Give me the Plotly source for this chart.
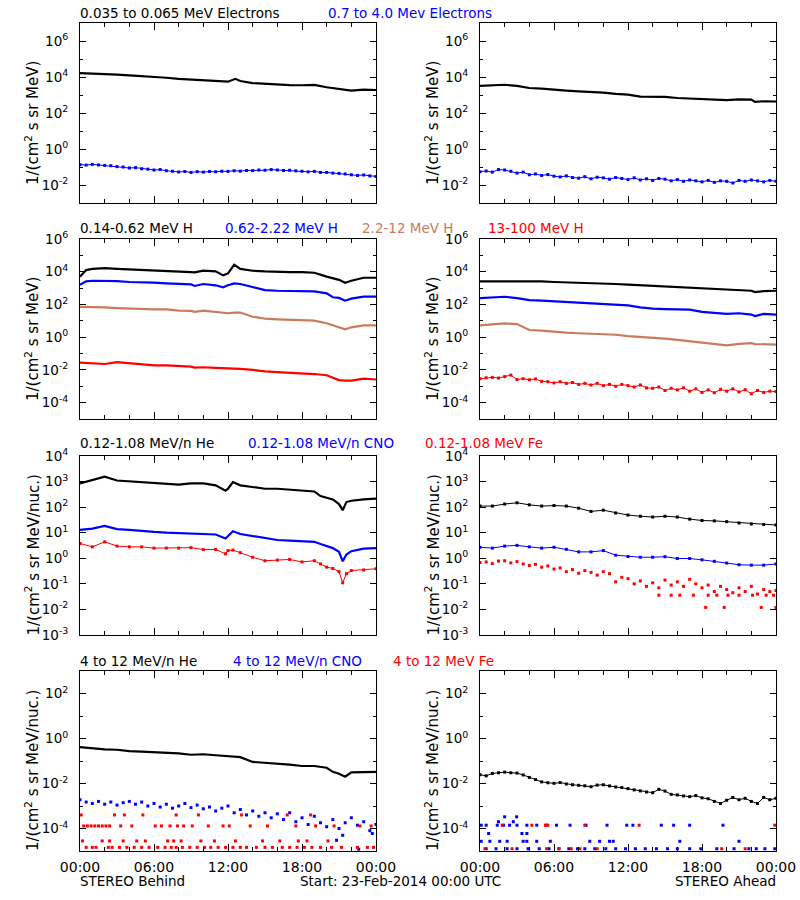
import plotly.graph_objects as go
from datetime import datetime, timedelta

# ---------------- data ----------------
START = datetime(2014, 2, 23)
HALF_HOURS = [h / 2 for h in range(49)]
HOURS = list(range(25))

# Row 1 - electrons
t_e_left = [0, 1, 2, 3, 4, 5, 6, 7, 8, 9, 10, 11, 12, 12.6, 13, 14, 15, 16, 17, 18, 19, 20, 21, 22, 23, 24]
e_low_left = [1.66e4, 1.58e4, 1.48e4, 1.35e4, 1.23e4, 1.12e4, 1.05e4, 9.1e3, 7.9e3, 7.2e3, 6.8e3, 6.3e3, 5.5e3,
              7.9e3, 6.0e3, 4.6e3, 4.1e3, 3.7e3, 3.55e3, 3.47e3, 3.63e3, 2.7e3, 2.1e3, 1.74e3, 2.0e3, 1.9e3]
e_high_left = [0.135, 0.128, 0.14, 0.13, 0.123, 0.118, 0.105, 0.1, 0.088, 0.092, 0.08, 0.076, 0.068, 0.072, 0.062,
               0.058, 0.053, 0.056, 0.05, 0.055, 0.052, 0.056, 0.054, 0.058, 0.057, 0.062, 0.059, 0.064, 0.063,
               0.068, 0.066, 0.072, 0.068, 0.064, 0.066, 0.061, 0.058, 0.054, 0.057, 0.05, 0.05, 0.046, 0.044,
               0.041, 0.037, 0.034, 0.036, 0.032, 0.03]
t_e_right = [0, 1, 2, 3, 4, 5, 6, 7, 8, 9, 10, 11, 12, 13, 14, 15, 16, 17, 18, 19, 20, 21, 22, 22.3, 23, 24]
e_low_right = [3.2e3, 3.5e3, 3.7e3, 3.2e3, 2.45e3, 2.25e3, 1.9e3, 1.74e3, 1.58e3, 1.48e3, 1.35e3, 1.15e3, 1.05e3,
               8.1e2, 8.1e2, 7.9e2, 6.8e2, 6.3e2, 5.75e2, 5.25e2, 5.25e2, 5.75e2, 5.5e2, 4.1e2, 4.5e2, 4.35e2]
e_high_right = [0.055, 0.06, 0.052, 0.072, 0.068, 0.058, 0.046, 0.052, 0.037, 0.041, 0.034, 0.038, 0.031, 0.028,
                0.032, 0.026, 0.024, 0.029, 0.022, 0.027, 0.025, 0.021, 0.026, 0.023, 0.02, 0.025, 0.019, 0.022,
                0.018, 0.023, 0.021, 0.017, 0.02, 0.016, 0.019, 0.017, 0.015, 0.018, 0.014, 0.017, 0.016, 0.013,
                0.018, 0.016, 0.019, 0.017, 0.015, 0.018, 0.016]

# Row 2 - protons
t_h_left = [0, 0.5, 1, 2, 3, 4, 5, 6, 7, 8, 9, 9.3, 10, 11, 11.6, 12, 12.5, 13, 14, 15, 16, 17, 18, 19, 20, 20.5,
            21, 21.5, 22, 23, 24]
h1_left = [5.0e3, 1.26e4, 1.5e4, 1.66e4, 1.5e4, 1.41e4, 1.26e4, 1.26e4, 1.15e4, 1.05e4, 9.5e3, 9.1e3, 1.15e4,
           1.05e4, 6.0e3, 7.9e3, 2.7e4, 1.5e4, 1.15e4, 1.05e4, 9.5e3, 9.5e3, 9.5e3, 8.7e3, 5.0e3, 4.0e3, 3.2e3,
           2.1e3, 2.8e3, 4.3e3, 4.3e3]
h2_left = [1.62e3, 2.57e3, 2.8e3, 2.8e3, 2.7e3, 2.35e3, 2.35e3, 2.15e3, 1.95e3, 1.78e3, 1.7e3, 1.35e3, 1.78e3,
           1.48e3, 1.12e3, 1.48e3, 1.95e3, 1.78e3, 1.12e3, 7.6e2, 6.9e2, 6.9e2, 6.3e2, 6.3e2, 4.8e2, 2.75e2, 2.5e2,
           1.7e2, 2.25e2, 3.0e2, 3.0e2]
h3_left = [72, 72, 72, 66, 60, 55, 55, 50, 50, 42, 40, 35, 42, 35, 32, 29, 32, 32, 17.8, 13.5, 12.3, 11.2, 11.2,
           10.2, 7.1, 5.2, 4.0, 3.0, 4.0, 5.2, 5.2]
h4_left = [2.75e-2, 2.6e-2, 2.5e-2, 2.3e-2, 3.0e-2, 2.5e-2, 2.1e-2, 1.9e-2, 1.9e-2, 1.74e-2, 1.58e-2, 1.38e-2,
           1.45e-2, 1.32e-2, 1.26e-2, 1.32e-2, 1.26e-2, 1.17e-2, 1.0e-2, 8.1e-3, 7.4e-3, 6.8e-3, 6.2e-3, 5.6e-3,
           4.7e-3, 3.5e-3, 2.4e-3, 2.2e-3, 2.2e-3, 2.9e-3, 2.6e-3]
t_h_right = [0, 1, 2, 3, 4, 5, 6, 7, 8, 9, 10, 11, 12, 13, 14, 15, 16, 17, 18, 19, 20, 21, 22, 22.3, 23, 24]
h1_right = [2.57e3, 2.57e3, 2.57e3, 2.8e3, 2.8e3, 2.57e3, 2.35e3, 2.25e3, 2.15e3, 2.05e3, 1.95e3, 1.78e3, 1.62e3,
            1.48e3, 1.35e3, 1.23e3, 1.12e3, 1.0e3, 9.1e2, 8.3e2, 7.6e2, 7.2e2, 6.9e2, 5.75e2, 6.6e2, 6.9e2]
h2_right = [245, 270, 295, 245, 186, 170, 155, 141, 129, 115, 105, 95, 87, 66, 55, 52.5, 50, 48, 35, 29, 26.3, 29,
            24, 19.5, 26.3, 24]
h3_right = [5.2, 5.75, 6.9, 6.3, 2.75, 2.5, 2.1, 1.9, 1.74, 1.66, 1.55, 1.41, 1.17, 1.07, 0.89, 0.81, 0.68, 0.56,
            0.47, 0.355, 0.32, 0.39, 0.43, 0.38, 0.355, 0.355]
h4_right = [2.9e-3, 3.3e-3, 3.5e-3, 3.2e-3, 3.9e-3, 4.8e-3, 2.6e-3, 2.9e-3, 2.5e-3, 2.8e-3, 2.0e-3, 1.9e-3, 1.6e-3,
            1.9e-3, 1.5e-3, 1.7e-3, 1.3e-3, 1.5e-3, 1.2e-3, 1.5e-3, 1.1e-3, 1.3e-3, 1.0e-3, 1.3e-3, 1.1e-3, 0.9e-3,
            1.2e-3, 0.8e-3, 0.75e-3, 0.9e-3, 0.55e-3, 0.75e-3, 0.6e-3, 0.8e-3, 0.5e-3, 0.7e-3, 0.42e-3, 0.6e-3,
            0.4e-3, 0.65e-3, 0.5e-3, 0.7e-3, 0.45e-3, 0.62e-3, 0.35e-3, 0.55e-3, 0.42e-3, 0.5e-3, 0.48e-3]

# Row 3 - low energy ions
t_ion_left = [0, 1, 2, 3, 4, 5, 6, 7, 8, 9, 10, 11, 11.8, 12, 12.4, 13, 14, 15, 16, 17, 18, 19, 19.5, 20, 20.5,
              21, 21.3, 21.6, 22, 23, 24]
he_lo_left = [850, 1150, 1550, 1100, 1020, 910, 850, 790, 760, 850, 850, 710, 440, 525, 955, 710, 590, 525, 525,
              490, 440, 410, 270, 240, 200, 132, 76, 158, 178, 200, 214]
cno_lo_left = [12.9, 14.5, 18.6, 13.8, 12.9, 11.5, 10.7, 10.0, 9.5, 8.9, 8.9, 8.5, 5.9, 7.4, 11.5, 8.9, 7.4, 5.9,
               5.2, 4.9, 4.7, 4.4, 3.6, 3.0, 2.5, 1.8, 0.76, 1.4, 1.9, 2.4, 2.5]
fe_lo_left = [3.8, 2.8, 4.4, 3.0, 2.8, 2.8, 2.5, 2.5, 2.5, 2.6, 2.2, 2.2, 1.5, 2.0, 2.1, 1.66, 1.1, 0.8, 0.85, 0.9,
              0.72, 0.8, 0.6, 0.45, 0.4, 0.3, 0.11, 0.25, 0.33, 0.35, 0.39]
he_lo_right = [110, 110, 132, 148, 123, 110, 115, 110, 91, 68, 76, 59, 49, 44, 41, 44, 41, 34, 30, 29, 27, 24, 22,
               21, 20]
cno_lo_right = [2.7, 2.5, 3.0, 3.2, 2.8, 2.5, 2.7, 2.24, 1.78, 1.78, 2.0, 1.32, 1.17, 1.1, 1.1, 1.15, 0.98, 0.98,
                0.87, 0.76, 0.65, 0.56, 0.54, 0.54, 0.6]
fe_lo_right = [0.68, 0.72, 0.62, 0.78, 0.8, 0.66, 0.74, 0.6, 0.52, 0.58, 0.45, 0.5, 0.38, 0.42, 0.3, 0.36, 0.26,
               0.33, 0.28, 0.22, 0.3, 0.25, 0.12, 0.18, 0.16, 0.1, 0.13, 0.08, 0.11, 0.07, 0.14, 0.09, 0.12, 0.08,
               0.15, 0.1, 0.07, 0.09, 0.05, 0.08, 0.06, 0.045, 0.07, 0.05, 0.08, 0.04, 0.06, 0.05, 0.055]
t_fe_lo_right_floor = [14.5, 15.5, 16.2, 17.3, 18.3, 18.5, 19.2, 19.8, 20.1, 21.0, 22.1, 22.8, 23.2, 23.8, 24.0]
fe_lo_right_floor = [0.036, 0.036, 0.036, 0.036, 0.012, 0.036, 0.036, 0.012, 0.036, 0.036, 0.036, 0.012, 0.036,
                     0.036, 0.012]

# Row 4 - high energy ions
t_he_hi_left = [0, 1, 2, 3, 4, 5, 6, 7, 8, 9, 10, 11, 12, 13, 14, 15, 16, 17, 18, 19, 20, 20.5, 21, 21.5, 22, 23, 24]
he_hi_left = [0.41, 0.355, 0.33, 0.316, 0.275, 0.263, 0.25, 0.235, 0.22, 0.19, 0.2, 0.18, 0.158, 0.148, 0.091,
              0.085, 0.074, 0.069, 0.06, 0.06, 0.05, 0.033, 0.027, 0.02, 0.031, 0.032, 0.033]
cno_hi_left = [1.9e-3, 1.5e-3, 1.3e-3, 1.6e-3, 1.2e-3, 1.5e-3, 1.1e-3, 1.4e-3, 1.6e-3, 1.2e-3, 1.5e-3, 1.0e-3,
               1.3e-3, 0.9e-3, 1.2e-3, 0.8e-3, 1.0e-3, 1.3e-3, 0.85e-3, 1.1e-3, 0.75e-3, 0.9e-3, 0.6e-3, 0.8e-3,
               1.0e-3, 0.5e-3, 0.7e-3, 0.4e-3, 0.6e-3, 0.35e-3, 0.5e-3, 0.3e-3, 0.45e-3, 0.25e-3, 0.5e-3, 0.2e-3,
               0.3e-3, 0.15e-3, 0.35e-3, 0.18e-3, 0.12e-3, 0.25e-3, 0.1e-3, 0.18e-3, 0.3e-3, 0.14e-3, 0.2e-3,
               0.08e-3, 0.15e-3]
t_cno_hi_left_extra = [20.8, 21.3, 22.6, 23.7]
cno_hi_left_extra = [3e-5, 5e-5, 1.2e-5, 6e-5]
t_fe_hi_left = [0.5, 1, 1.3, 2.3, 2.6, 3.2, 3.8, 4.4, 5, 5.6, 6.3, 6.9, 7.4, 7.8, 8.3, 8.9, 9.5, 10.1, 10.6, 11.2,
                11.8, 12.4, 13, 13.5, 14.3, 15, 15.6, 16.4, 17, 17.6, 18.2, 18.8, 19.5, 20.4, 21.2, 22.5, 23.3, 23.8,
                0.2, 1.8, 2.4, 3.5, 4.6, 5.3, 7.1, 7.6, 8.2, 9.8, 10.9, 12.6, 14.8, 16.2, 17.7, 18.4, 20.1,
                0.3, 0.6, 0.9, 1.2, 1.5, 1.8, 2.1, 2.4, 3.3, 4.2, 6.1, 6.6, 7.3, 7.9, 8.4, 9.1, 10.4, 11.6, 12.1,
                13.8, 15.2, 17.5, 19.1, 20.6, 22.7, 23.6,
                0.1, 2.8, 3.6, 5.1, 7.8, 9.6, 13.1, 16.8, 18.7]
fe_hi_left = [1.45e-5] * 38 + [2.8e-5] * 17 + [1.3e-4] * 26 + [4e-4] * 9
he_hi_right = [0.0245, 0.022, 0.028, 0.03, 0.032, 0.03, 0.029, 0.024, 0.0186, 0.015, 0.0118, 0.0108, 0.0102,
               0.011, 0.0095, 0.0088, 0.0083, 0.0079, 0.0072, 0.0085, 0.0088, 0.0078, 0.007, 0.0066, 0.0059, 0.0052,
               0.0047, 0.0042, 0.0039, 0.0055, 0.0046, 0.0033, 0.0031, 0.0028, 0.0026, 0.0029, 0.0023, 0.0021,
               0.0016, 0.0013, 0.0018, 0.0024, 0.0019, 0.0022, 0.0016, 0.0013, 0.0024, 0.0019, 0.0022]
t_cno_hi_right = [0.1, 0.5, 1.4, 1.9, 2.4, 3.0, 3.8, 4.6, 5.4, 6.2, 7.3, 8.6, 10.3, 11.9, 12.4, 14.7, 15.7, 17.0, 19.7,
                  0.1, 0.8, 1.6, 2.2, 3.5, 3.8, 4.6, 5.7, 8.9, 9.7, 10.5, 10.8, 16.2, 21.0,
                  0.7, 3.4, 3.8, 2.0, 2.97, 1.5, 2.7,
                  0.5, 1.3, 2.2, 3.0, 3.9, 4.8, 5.6, 6.4, 7.2, 7.9, 8.5, 9.3, 10.2, 11.0, 11.8, 12.6, 13.4, 14.3,
                  15.2, 16.0, 17.0, 17.9, 19.2, 20.6, 21.8, 22.4, 23.1, 23.9]
cno_hi_right = ([1.4e-4] * 19 + [2.7e-5] * 14 + [6e-5] * 3 + [3.3e-4] * 2 + [2e-4] * 2 + [1.26e-5] * 28)
t_fe_hi_right = [1.8, 4.2, 5.3, 5.5, 8.5, 12.9, 23.9, 0.4, 2.6, 5.4, 6.4, 7.4, 8.1, 9.5, 19.6, 21.5]
fe_hi_right = [1.4e-4] * 7 + [1.26e-5] * 9

# Titles / labels
row_titles = [
    [("0.035 to 0.065 MeV Electrons", "black", 80), ("0.7 to 4.0 Mev Electrons", "blue", 328)],
    [("0.14-0.62 MeV H", "black", 80), ("0.62-2.22 MeV H", "blue", 225), ("2.2-12 MeV H", "brown", 362),
     ("13-100 MeV H", "red", 488)],
    [("0.12-1.08 MeV/n He", "black", 80), ("0.12-1.08 MeV/n CNO", "blue", 248), ("0.12-1.08 MeV Fe", "red", 425)],
    [("4 to 12 MeV/n He", "black", 80), ("4 to 12 MeV/n CNO", "blue", 233), ("4 to 12 MeV Fe", "red", 393)],
]
y_titles = ["1/(cm<sup>2</sup> s sr MeV)", "1/(cm<sup>2</sup> s sr MeV)",
            "1/(cm<sup>2</sup> s sr MeV/nuc.)", "1/(cm<sup>2</sup> s sr MeV/nuc.)"]
y_ranges = [(-3, 7), (-5, 6), (-3, 4), (-5, 3)]
y_major = [[-2, 0, 2, 4, 6], [-4, -2, 0, 2, 4, 6], [-3, -2, -1, 0, 1, 2, 3, 4], [-4, -2, 0, 2]]
y_minor = [[-3, -1, 1, 3, 5, 7], [-5, -3, -1, 1, 3, 5], [], [-5, -3, -1, 1, 3]]
x_tick_hours = [0, 6, 12, 18, 24]
x_tick_text = ["00:00", "06:00", "12:00", "18:00", "00:00"]
x_minor_hours = [2, 4, 8, 10, 14, 16, 20, 22]

# ---------------- styling ----------------
W, H = 800, 900
COLORS = {"black": "#000000", "blue": "#0000ff", "brown": "#c87c5c", "red": "#ff0000"}
COL_X = [(80, 376), (480, 776)]
ROW_Y = [(23, 203), (239, 419), (456, 635), (671, 851)]
TITLE_Y = [13, 228, 443, 661]
FONT = "DejaVu Sans"


def ts(hours):
    return [START + timedelta(hours=h) for h in hours]


def sup(p):
    return "10<sup>%s</sup>" % str(p)


series = [
    # panel, times, values, color, style
    (0, t_e_left, e_low_left, "black", "line"),
    (0, HALF_HOURS, e_high_left, "blue", "noisy"),
    (1, t_e_right, e_low_right, "black", "line"),
    (1, HALF_HOURS, e_high_right, "blue", "noisy"),
    (2, t_h_left, h1_left, "black", "line"),
    (2, t_h_left, h2_left, "blue", "line"),
    (2, t_h_left, h3_left, "brown", "line"),
    (2, t_h_left, h4_left, "red", "line"),
    (3, t_h_right, h1_right, "black", "line"),
    (3, t_h_right, h2_right, "blue", "line"),
    (3, t_h_right, h3_right, "brown", "line"),
    (3, HALF_HOURS, h4_right, "red", "noisy"),
    (4, t_ion_left, he_lo_left, "black", "line"),
    (4, t_ion_left, cno_lo_left, "blue", "line"),
    (4, t_ion_left, fe_lo_left, "red", "noisy"),
    (5, HOURS, he_lo_right, "black", "noisy"),
    (5, HOURS, cno_lo_right, "blue", "noisy"),
    (5, HALF_HOURS, fe_lo_right, "red", "dots"),
    (5, t_fe_lo_right_floor, fe_lo_right_floor, "red", "dots"),
    (6, t_he_hi_left, he_hi_left, "black", "line"),
    (6, HALF_HOURS, cno_hi_left, "blue", "dots"),
    (6, t_cno_hi_left_extra, cno_hi_left_extra, "blue", "dots"),
    (6, t_fe_hi_left, fe_hi_left, "red", "dots"),
    (7, HALF_HOURS, he_hi_right, "black", "noisy"),
    (7, t_cno_hi_right, cno_hi_right, "blue", "dots"),
    (7, t_fe_hi_right, fe_hi_right, "red", "dots"),
]

fig = go.Figure()
for panel, tt, vv, col, style in series:
    c = COLORS[col]
    ax = "" if panel == 0 else str(panel + 1)
    kw = dict(x=ts(tt), y=vv, xaxis="x" + ax, yaxis="y" + ax, showlegend=False, hoverinfo="skip")
    if style == "line":
        fig.add_trace(go.Scatter(mode="lines", line=dict(color=c, width=2.2), **kw))
    elif style == "noisy":
        fig.add_trace(go.Scatter(mode="lines+markers", line=dict(color=c, width=1),
                                 marker=dict(color=c, size=3, symbol="square"), **kw))
    else:
        fig.add_trace(go.Scatter(mode="markers", marker=dict(color=c, size=3, symbol="square"), **kw))

layout = dict(width=W, height=H, margin=dict(l=0, r=0, t=0, b=0, autoexpand=False), paper_bgcolor="white",
              plot_bgcolor="white", font=dict(family=FONT, size=13, color="black"))
annotations = []
for row in range(4):
    y0, y1 = ROW_Y[row]
    for col in range(2):
        panel = row * 2 + col
        ax = "" if panel == 0 else str(panel + 1)
        x0, x1 = COL_X[col]
        layout["xaxis" + ax] = dict(
            domain=[x0 / W, x1 / W], anchor="y" + ax, type="date", automargin=False,
            range=[START, START + timedelta(hours=24)],
            tickmode="array", tickvals=ts(x_tick_hours), ticktext=x_tick_text,
            showticklabels=(row == 3), ticks="inside", ticklen=7, tickwidth=1, tickcolor="black",
            minor=dict(tickmode="array", tickvals=ts(x_minor_hours), ticks="inside", ticklen=4,
                       tickcolor="black", tickwidth=1),
            showline=True, linecolor="black", linewidth=1, mirror="ticks", showgrid=False, zeroline=False,
            tickfont=dict(family=FONT, size=14), ticklabelstandoff=3, fixedrange=True)
        minor = dict(tickmode="array", tickvals=[10.0 ** p for p in y_minor[row]], ticks="inside",
                     ticklen=3, tickcolor="black", tickwidth=1) if y_minor[row] else dict(ticks="")
        layout["yaxis" + ax] = dict(
            domain=[1 - y1 / H, 1 - y0 / H], anchor="x" + ax, type="log", automargin=False,
            range=list(y_ranges[row]),
            tickmode="array", tickvals=[10.0 ** p for p in y_major[row]], ticktext=[sup(p) for p in y_major[row]],
            ticks="inside", ticklen=6, tickwidth=1, tickcolor="black", minor=minor,
            showline=True, linecolor="black", linewidth=1, mirror="ticks", showgrid=False, zeroline=False,
            tickfont=dict(family=FONT, size=13.5), ticklabelstandoff=8, fixedrange=True)
        annotations.append(dict(text=y_titles[row], x=(x0 - 48) / W, y=1 - ((y0 + y1) / 2 + 10) / H,
                                xref="paper", yref="paper", textangle=-90, showarrow=False,
                                xanchor="center", yanchor="middle", font=dict(family=FONT, size=15)))
    for text, col, xpos in row_titles[row]:
        annotations.append(dict(text=text, x=(xpos - 2) / W, y=1 - TITLE_Y[row] / H, xref="paper", yref="paper",
                                showarrow=False, xanchor="left", yanchor="middle",
                                font=dict(family=FONT, size=13.5, color=COLORS[col])))

annotations.append(dict(text="STEREO Behind", x=78 / W, y=1 - 881 / H, xref="paper", yref="paper",
                        showarrow=False, xanchor="left", yanchor="middle", font=dict(family=FONT, size=13.5)))
annotations.append(dict(text="Start: 23-Feb-2014 00:00 UTC", x=400 / W, y=1 - 881 / H, xref="paper",
                        yref="paper", showarrow=False, xanchor="center", yanchor="middle",
                        font=dict(family=FONT, size=13.5)))
annotations.append(dict(text="STEREO Ahead", x=778 / W, y=1 - 881 / H, xref="paper", yref="paper",
                        showarrow=False, xanchor="right", yanchor="middle", font=dict(family=FONT, size=13.5)))
layout["annotations"] = annotations
fig.update_layout(**layout)
fig.write_html("out.html", config={"displayModeBar": False, "staticPlot": True},
               post_script="document.body.style.margin='0px';document.body.style.padding='0px';")
